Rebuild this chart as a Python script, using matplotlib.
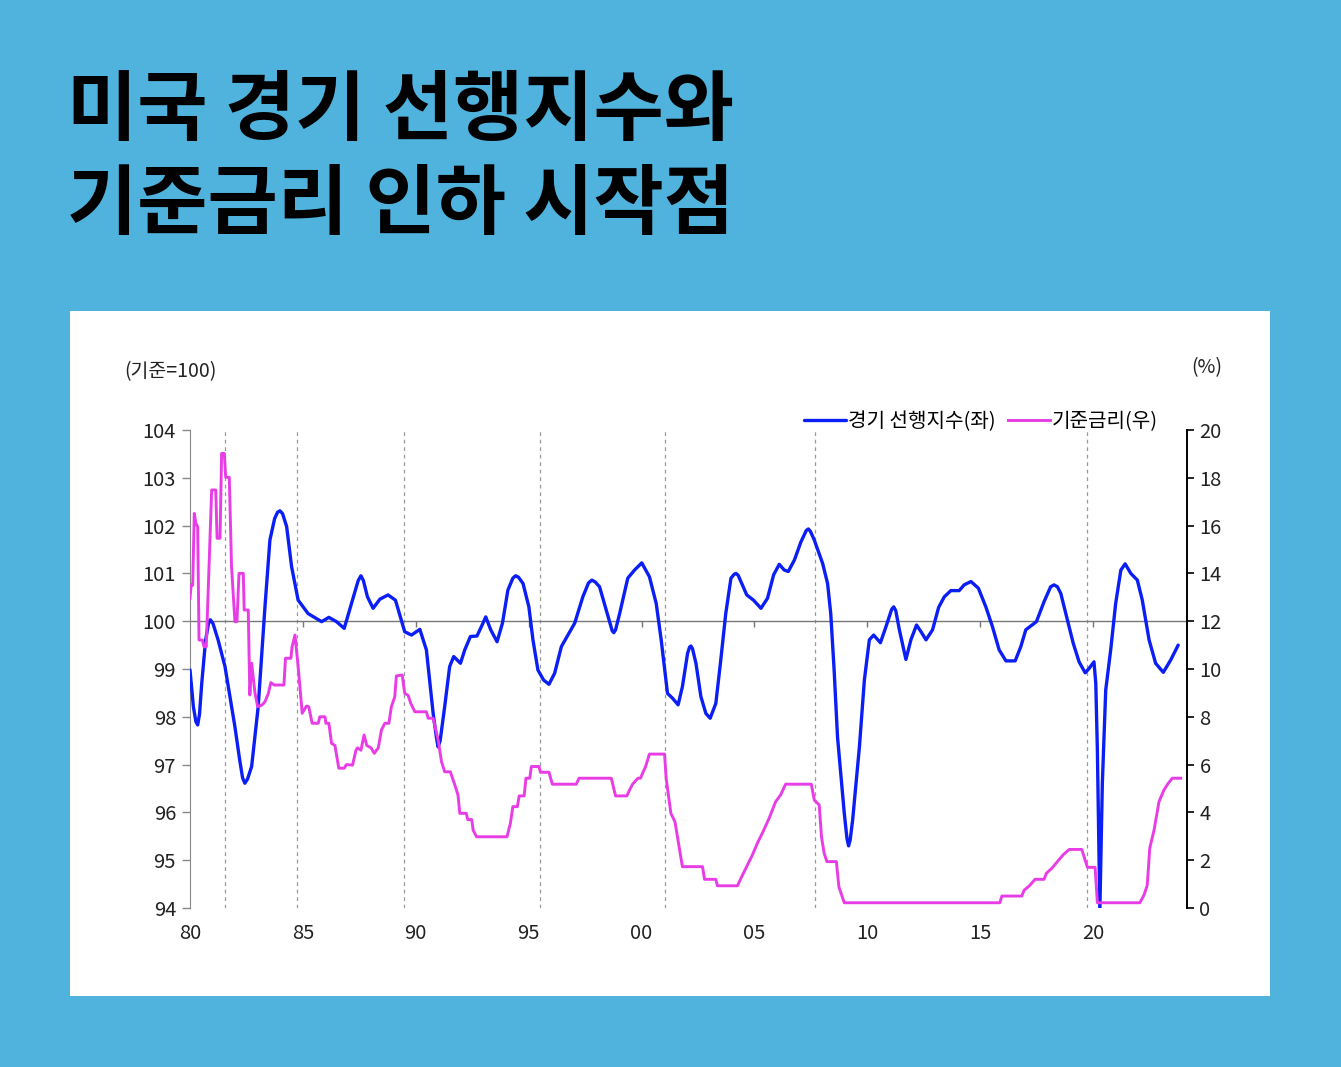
import numpy as np
import matplotlib.pyplot as plt

plt.rcParams['font.family'] = ['Noto Sans CJK KR', 'DejaVu Sans']

# 경기 선행지수 (기준=100), 좌축
lei_t = [1980.00, 1980.15, 1980.26, 1980.34, 1980.42, 1980.52, 1980.69, 1980.82, 1980.90, 1981.02,
         1981.25, 1981.55, 1981.99, 1982.20, 1982.33, 1982.43, 1982.55, 1982.73, 1983.02, 1983.32,
         1983.54, 1983.75, 1983.88, 1983.98, 1984.10, 1984.28, 1984.50, 1984.79, 1985.23, 1985.83,
         1986.15, 1986.49, 1986.83, 1987.15, 1987.45, 1987.57, 1987.68, 1987.86, 1988.11, 1988.41,
         1988.77, 1989.10, 1989.51, 1989.81, 1990.18, 1990.47, 1990.77, 1990.92, 1990.99, 1991.08,
         1991.28, 1991.50, 1991.68, 1991.98, 1992.17, 1992.42, 1992.71, 1992.91, 1993.10, 1993.32,
         1993.60, 1993.84, 1994.08, 1994.30, 1994.42, 1994.55, 1994.75, 1995.01, 1995.19, 1995.41,
         1995.66, 1995.90, 1996.15, 1996.45, 1996.74, 1997.04, 1997.40, 1997.65, 1997.80, 1997.95,
         1998.14, 1998.44, 1998.70, 1998.77, 1998.85, 1999.03, 1999.39, 1999.69, 2000.01, 2000.35,
         2000.65, 2000.87, 2001.15, 2001.37, 2001.62, 2001.81, 2002.04, 2002.13, 2002.19, 2002.26,
         2002.41, 2002.63, 2002.85, 2003.04, 2003.29, 2003.51, 2003.73, 2003.96, 2004.10, 2004.18,
         2004.28, 2004.40, 2004.66, 2004.96, 2005.29, 2005.58, 2005.85, 2006.10, 2006.32, 2006.50,
         2006.77, 2007.06, 2007.30, 2007.39, 2007.48, 2007.65, 2008.02, 2008.24, 2008.38, 2008.53,
         2008.68, 2008.98, 2009.10, 2009.17, 2009.24, 2009.35, 2009.65, 2009.87, 2010.09, 2010.28,
         2010.58, 2010.83, 2011.08, 2011.17, 2011.26, 2011.42, 2011.71, 2011.93, 2012.18, 2012.38,
         2012.60, 2012.89, 2013.16, 2013.41, 2013.70, 2014.07, 2014.29, 2014.59, 2014.92, 2015.25,
         2015.54, 2015.84, 2016.14, 2016.55, 2016.80, 2017.02, 2017.24, 2017.49, 2017.83, 2018.12,
         2018.27, 2018.42, 2018.57, 2018.86, 2019.12, 2019.38, 2019.65, 2019.82, 2020.04, 2020.12,
         2020.19, 2020.30, 2020.41, 2020.56, 2020.78, 2021.00, 2021.23, 2021.42, 2021.67, 2021.96,
         2022.18, 2022.48, 2022.77, 2023.11, 2023.44, 2023.77]
lei_v = [98.98, 98.21, 97.90, 97.83, 98.05, 98.70, 99.60, 99.95, 100.03, 99.95,
         99.60, 99.05, 97.79, 97.10, 96.72, 96.61, 96.70, 96.96, 98.21, 100.30,
         101.70, 102.15, 102.28, 102.31, 102.25, 101.98, 101.14, 100.44, 100.16, 99.99,
         100.08, 99.99, 99.85, 100.37, 100.85, 100.95, 100.85, 100.51, 100.27, 100.46,
         100.55, 100.44, 99.78, 99.71, 99.83, 99.40, 98.07, 97.55, 97.37, 97.50,
         98.21, 99.05, 99.26, 99.12, 99.40, 99.68, 99.69, 99.89, 100.09, 99.82,
         99.57, 99.96, 100.65, 100.90, 100.95, 100.92, 100.79, 100.30, 99.61, 98.98,
         98.77, 98.68, 98.91, 99.47, 99.71, 99.96, 100.51, 100.80, 100.86, 100.82,
         100.72, 100.23, 99.80, 99.76, 99.82, 100.16, 100.90, 101.07, 101.22, 100.93,
         100.37, 99.61, 98.49, 98.39, 98.25, 98.63, 99.33, 99.46, 99.48, 99.42,
         99.12, 98.42, 98.07, 97.97, 98.28, 99.19, 100.16, 100.90, 100.98, 101.00,
         100.96, 100.83, 100.55, 100.44, 100.27, 100.48, 100.97, 101.19, 101.07, 101.04,
         101.28, 101.66, 101.90, 101.93, 101.88, 101.70, 101.21, 100.79, 100.16, 98.98,
         97.58, 95.98, 95.45, 95.30, 95.42, 95.84, 97.37, 98.77, 99.61, 99.71,
         99.55, 99.89, 100.25, 100.30, 100.22, 99.82, 99.20, 99.61, 99.92, 99.78,
         99.61, 99.82, 100.29, 100.51, 100.64, 100.64, 100.76, 100.83, 100.69, 100.30,
         99.89, 99.40, 99.17, 99.17, 99.47, 99.82, 99.90, 99.99, 100.41, 100.72,
         100.76, 100.72, 100.58, 100.03, 99.54, 99.15, 98.92, 99.01, 99.15, 98.70,
         97.31, 93.95, 96.61, 98.56, 99.40, 100.37, 101.07, 101.20, 101.00, 100.86,
         100.44, 99.61, 99.12, 98.93, 99.19, 99.50]

# 기준금리 (%), 우축
rate_t = [1980.00, 1980.05, 1980.12, 1980.19, 1980.26, 1980.34, 1980.40, 1980.55, 1980.62, 1980.72,
          1980.96, 1981.14, 1981.20, 1981.33, 1981.40, 1981.52, 1981.58, 1981.74, 1981.84, 1981.99,
          1982.08, 1982.17, 1982.36, 1982.40, 1982.58, 1982.65, 1982.73, 1982.88, 1983.00, 1983.20,
          1983.32, 1983.47, 1983.58, 1983.73, 1984.16, 1984.23, 1984.47, 1984.52, 1984.65, 1984.79,
          1984.97, 1985.16, 1985.26, 1985.41, 1985.68, 1985.75, 1985.98, 1986.02, 1986.15, 1986.27,
          1986.42, 1986.59, 1986.83, 1986.93, 1987.20, 1987.35, 1987.42, 1987.57, 1987.71, 1987.83,
          1988.02, 1988.16, 1988.34, 1988.48, 1988.63, 1988.81, 1988.92, 1989.07, 1989.14, 1989.40,
          1989.51, 1989.66, 1989.78, 1989.96, 1990.47, 1990.55, 1990.77, 1990.99, 1991.14, 1991.28,
          1991.53, 1991.73, 1991.87, 1991.95, 1992.24, 1992.30, 1992.48, 1992.54, 1992.69, 1994.04,
          1994.19, 1994.30, 1994.50, 1994.58, 1994.80, 1994.88, 1995.05, 1995.12, 1995.46, 1995.52,
          1995.90, 1996.05, 1997.11, 1997.23, 1998.66, 1998.85, 1999.35, 1999.47, 1999.61, 1999.84,
          1999.95, 2000.18, 2000.35, 2001.02, 2001.09, 2001.30, 2001.48, 2001.81, 2002.70, 2002.79,
          2003.29, 2003.36, 2004.25, 2004.40, 2004.62, 2004.91, 2005.13, 2005.38, 2005.65, 2005.94,
          2006.16, 2006.38, 2007.52, 2007.65, 2007.87, 2007.97, 2008.09, 2008.21, 2008.63, 2008.74,
          2008.98, 2015.87, 2015.96, 2016.84, 2016.95, 2017.17, 2017.43, 2017.83, 2017.93, 2018.17,
          2018.42, 2018.67, 2018.94, 2019.50, 2019.75, 2020.09, 2020.19, 2022.07, 2022.26, 2022.40,
          2022.51, 2022.70, 2022.92, 2023.14, 2023.33, 2023.51, 2023.88]
rate_v = [12.96, 13.51, 13.51, 16.51, 16.10, 15.95, 11.21, 11.21, 10.93, 10.93,
          17.49, 17.49, 15.47, 15.47, 19.02, 19.02, 18.02, 18.02, 14.28, 11.98,
          11.98, 14.00, 14.00, 12.47, 12.47, 8.91, 10.24, 8.98, 8.42, 8.50,
          8.63, 8.98, 9.43, 9.33, 9.33, 10.45, 10.45, 10.93, 11.42, 10.10,
          8.15, 8.45, 8.42, 7.73, 7.73, 8.00, 8.00, 7.73, 7.73, 6.89,
          6.80, 5.85, 5.85, 6.00, 5.98, 6.60, 6.70, 6.60, 7.24, 6.80,
          6.70, 6.47, 6.70, 7.45, 7.73, 7.73, 8.42, 8.84, 9.71, 9.75,
          8.98, 8.90, 8.56, 8.21, 8.21, 7.94, 7.94, 7.03, 6.12, 5.70,
          5.70, 5.15, 4.73, 3.96, 3.96, 3.70, 3.70, 3.26, 2.98, 2.98,
          3.54, 4.24, 4.24, 4.69, 4.69, 5.43, 5.43, 5.92, 5.92, 5.68,
          5.68, 5.18, 5.18, 5.43, 5.43, 4.69, 4.69, 4.94, 5.19, 5.43,
          5.43, 5.92, 6.44, 6.44, 5.43, 3.96, 3.61, 1.73, 1.73, 1.20,
          1.20, 0.93, 0.93, 1.24, 1.66, 2.22, 2.71, 3.19, 3.75, 4.45,
          4.73, 5.18, 5.18, 4.52, 4.31, 2.98, 2.29, 1.94, 1.94, 0.89,
          0.22, 0.22, 0.50, 0.50, 0.75, 0.92, 1.20, 1.20, 1.45, 1.66,
          1.94, 2.22, 2.45, 2.45, 1.70, 1.70, 0.22, 0.22, 0.55, 0.96,
          2.50, 3.26, 4.45, 4.94, 5.22, 5.43, 5.43]

# 기준금리 인하 시작점
cut_starts = [1981.55, 1984.73, 1989.47, 1995.52, 2001.05, 2007.70, 2019.72]

year_ticks = [1980, 1985, 1990, 1995, 2000, 2005, 2010, 2015, 2020]
year_labels = ['80', '85', '90', '95', '00', '05', '10', '15', '20']

bg = '#4FB3DE'
blue = '#0A1EF5'
magenta = '#E83DE6'

fig = plt.figure(figsize=(13.41, 10.67), dpi=100, facecolor=bg)

# 흰색 패널
panel = fig.add_axes([70 / 1341, 1 - 996 / 1067, 1200 / 1341, 685 / 1067])
panel.set_facecolor('white')
panel.set_xticks([])
panel.set_yticks([])
for s in panel.spines.values():
    s.set_visible(False)

fig.text(0.050, 0.896, '미국 경기 선행지수와', fontsize=55, fontweight='bold',
         color='black', va='center', ha='left')
fig.text(0.050, 0.808, '기준금리 인하 시작점', fontsize=55, fontweight='bold',
         color='black', va='center', ha='left')

ax = fig.add_axes([190 / 1341, 1 - 908 / 1067, 997 / 1341, 478 / 1067])
ax.patch.set_alpha(0)
ax2 = ax.twinx()

ax.set_xlim(1980, 2024.16)
ax.set_ylim(94, 104)
ax2.set_ylim(0, 20)

for x in cut_starts:
    ax.axvline(x, color='#999999', lw=0.9, ls=(0, (3, 3)), zorder=1)

ax.axhline(100, color='#777777', lw=1.0, zorder=1)
ax.vlines(year_ticks[1:], 99.87, 100, color='#777777', lw=1.0, zorder=1)

l1, = ax.plot(lei_t, lei_v, color=blue, lw=2.4, zorder=3, solid_joinstyle='round',
              solid_capstyle='round', label='경기 선행지수(좌)')
l2, = ax2.plot(rate_t, rate_v, color=magenta, lw=2.1, zorder=2, label='기준금리(우)')

ax.set_xticks(year_ticks)
ax.set_xticklabels(year_labels)
ax.set_yticks(np.arange(94, 105, 1))
ax2.set_yticks(np.arange(0, 21, 2))

ax.tick_params(axis='x', length=0, pad=11, labelsize=14.5, labelcolor='#222222')
ax.tick_params(axis='y', direction='out', length=6, width=1, color='#888888',
               labelsize=14.5, labelcolor='#222222', pad=4)
ax2.tick_params(axis='y', direction='out', length=5, width=1.2, color='black',
                labelsize=14.5, labelcolor='#222222', pad=4)

for a in (ax, ax2):
    a.spines['top'].set_visible(False)
    a.spines['bottom'].set_visible(False)
ax.spines['right'].set_visible(False)
ax2.spines['left'].set_visible(False)
ax.spines['left'].set_color('#888888')
ax2.spines['right'].set_color('black')
ax2.spines['right'].set_linewidth(1.4)

fig.text(124 / 1341, 1 - 372 / 1067, '(기준=100)', fontsize=14, color='#222222',
         va='center', ha='left')
fig.text(1222 / 1341, 1 - 368 / 1067, '(%)', fontsize=14, color='#222222',
         va='center', ha='right')

fig.legend(handles=[l1, l2], loc='center right', bbox_to_anchor=(1158 / 1341, 1 - 422 / 1067),
           ncol=2, frameon=False, fontsize=14.5, handlelength=2.1, handletextpad=0.1,
           columnspacing=0.6, borderpad=0, borderaxespad=0)

fig.savefig('out.png', dpi=100, facecolor=bg)
